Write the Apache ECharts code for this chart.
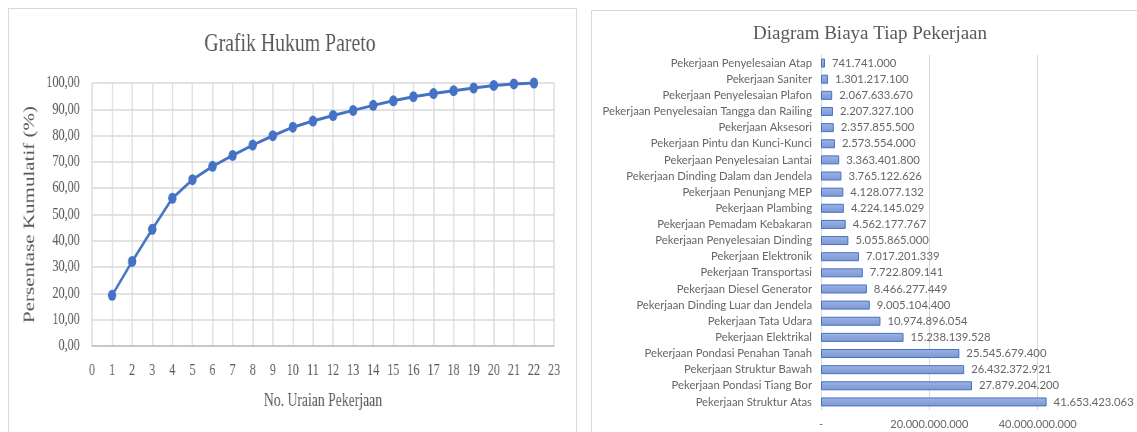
<!DOCTYPE html>
<html>
<head>
<meta charset="utf-8">
<script src="https://cdn.jsdelivr.net/npm/echarts@6/dist/echarts.min.js"></script>
<style>
  html, body { margin: 0; padding: 0; background: #fff; overflow: hidden; }
  body { width: 1137px; height: 432px; position: relative; }
  .panel { position: absolute; border: 1px solid #d9d9d9; box-sizing: border-box; }
  #paretoWrap { position: absolute; left: 0; top: 0; width: 580px; height: 432px; overflow: hidden; }
  /* the Pareto chart sits horizontally condensed inside its panel */
  #pareto { position: absolute; left: 0; top: 0; width: 763px; height: 432px;
            transform: scaleX(0.76); transform-origin: 0 0; }
  #biaya { position: absolute; left: 580px; top: 0; width: 557px; height: 432px; }
</style>
</head>
<body>
<div class="panel" style="left:8px; top:8px; width:569px; height:440px;"></div>
<div class="panel" style="left:591px; top:10px; width:560px; height:440px;"></div>
<div id="paretoWrap"><div id="pareto"></div></div>
<div id="biaya"></div>
<script>
// Pekerjaan, urut dari biaya terbesar ke terkecil (No. Uraian 1..22)
const pekerjaan = [
  'Pekerjaan Struktur Atas',
  'Pekerjaan Pondasi Tiang Bor',
  'Pekerjaan Struktur Bawah',
  'Pekerjaan Pondasi Penahan Tanah',
  'Pekerjaan Elektrikal',
  'Pekerjaan Tata Udara',
  'Pekerjaan Dinding Luar dan Jendela',
  'Pekerjaan Diesel Generator',
  'Pekerjaan Transportasi',
  'Pekerjaan Elektronik',
  'Pekerjaan Penyelesaian Dinding',
  'Pekerjaan Pemadam Kebakaran',
  'Pekerjaan Plambing',
  'Pekerjaan Penunjang MEP',
  'Pekerjaan Dinding Dalam dan Jendela',
  'Pekerjaan Penyelesaian Lantai',
  'Pekerjaan Pintu dan Kunci-Kunci',
  'Pekerjaan Aksesori',
  'Pekerjaan Penyelesaian Tangga dan Railing',
  'Pekerjaan Penyelesaian Plafon',
  'Pekerjaan Saniter',
  'Pekerjaan Penyelesaian Atap'
];

// Biaya tiap pekerjaan (Rp)
const biaya = [
  41653423063, 27879204200, 26432372921, 25545679400, 15238139528,
  10974896054, 9005104400, 8466277449, 7722809141, 7017201339,
  5055865000, 4562177767, 4224145029, 4128077132, 3765122626,
  3363401800, 2573554000, 2357855500, 2207327100, 2067633670,
  1301217100, 741741000
];

// No. uraian pekerjaan dan persentase kumulatif (%)
const noUraian = [1, 2, 3, 4, 5, 6, 7, 8, 9, 10, 11, 12, 13, 14, 15, 16, 17, 18, 19, 20, 21, 22];
const kumulatif = [
  19.26, 32.15, 44.37, 56.18, 63.23, 68.30, 72.46, 76.38, 79.95, 83.20, 85.53,
  87.64, 89.59, 91.50, 93.24, 94.80, 95.99, 97.08, 98.10, 99.06, 99.66, 100.00
];

// Sumbu
const sumbuX = { min: 0, max: 23, interval: 1 };
const sumbuY = { min: 0, max: 100, interval: 10 };
const sumbuBiaya = { min: 0, max: 60000000000, interval: 20000000000 };

const abu = '#595959';
const abuMuda = '#666666';
const garis = '#d9d9d9';
const serif = '"Liberation Serif", "Times New Roman", serif';
const sans = 'Lato, "Open Sans", sans-serif';

function ribuan(v) {
  return String(Math.round(v)).replace(/\B(?=(\d{3})+(?!\d))/g, '.');
}

// ---- Grafik Hukum Pareto ----
const pareto = echarts.init(document.getElementById('pareto'), null, { renderer: 'canvas' });
pareto.setOption({
  animation: false,
  title: {
    text: 'Grafik Hukum Pareto',
    left: 'center', top: 26,
    textStyle: { fontFamily: serif, fontSize: 26, fontWeight: 'normal', color: abu }
  },
  grid: { left: 121, right: 34, top: 83, bottom: 86, outerBoundsMode: 'none' },
  xAxis: {
    type: 'value', min: sumbuX.min, max: sumbuX.max, interval: sumbuX.interval,
    name: 'No. Uraian Pekerjaan', nameLocation: 'middle', nameGap: 46,
    nameTextStyle: { fontFamily: serif, fontSize: 18, color: abu },
    axisLine: { show: true, lineStyle: { color: '#bfbfbf', width: 1.5 } },
    axisTick: { show: false },
    axisLabel: { fontFamily: serif, fontSize: 16, color: abu, margin: 17 },
    splitLine: { show: true, lineStyle: { color: garis, width: 1.5 } }
  },
  yAxis: {
    type: 'value', min: sumbuY.min, max: sumbuY.max, interval: sumbuY.interval,
    name: 'Persentase Kumulatif (%)', nameLocation: 'middle', nameGap: 61, nameRotate: 90,
    nameTextStyle: { fontFamily: serif, fontSize: 21, color: abu },
    axisLine: { show: false },
    axisTick: { show: false },
    axisLabel: {
      fontFamily: serif, fontSize: 16, color: abu, margin: 16,
      formatter: v => v.toFixed(2).replace('.', ',')
    },
    splitLine: { show: true, lineStyle: { color: garis, width: 1.5 } }
  },
  series: [{
    type: 'line',
    data: noUraian.map((n, i) => [n, kumulatif[i]]),
    symbol: 'circle', symbolSize: 11,
    lineStyle: { color: '#4472c4', width: 3 },
    itemStyle: { color: '#4472c4' }
  }]
});

// ---- Diagram Biaya Tiap Pekerjaan ----
const chartBiaya = echarts.init(document.getElementById('biaya'), null, { renderer: 'canvas' });
chartBiaya.setOption({
  animation: false,
  title: {
    text: 'Diagram Biaya Tiap Pekerjaan',
    left: 285, textAlign: 'center', top: 20,
    textStyle: { fontFamily: serif, fontSize: 19, fontWeight: 'normal', color: abu }
  },
  grid: { left: 241, top: 55, width: 325, bottom: 22, outerBoundsMode: 'none' },
  xAxis: {
    type: 'value', min: sumbuBiaya.min, max: sumbuBiaya.max, interval: sumbuBiaya.interval,
    axisLine: { show: false },
    axisTick: { show: false },
    axisLabel: {
      fontFamily: sans, fontSize: 11, color: abuMuda, margin: 9,
      formatter: v => v === 0 ? '-' : (v >= sumbuBiaya.max ? '' : ribuan(v))
    },
    splitLine: { show: true, lineStyle: { color: garis, width: 1 } }
  },
  yAxis: {
    type: 'category', data: pekerjaan,
    axisLine: { show: true, lineStyle: { color: garis, width: 1 } },
    axisTick: { show: false },
    axisLabel: { fontFamily: sans, fontSize: 11.3, color: abuMuda, margin: 9 }
  },
  series: [{
    type: 'bar', data: biaya, barWidth: 9,
    itemStyle: {
      color: new echarts.graphic.LinearGradient(0, 0, 0, 1, [
        { offset: 0, color: '#9fb4e2' },
        { offset: 0.5, color: '#8ba5da' },
        { offset: 1, color: '#7b98d3' }
      ]),
      borderColor: '#4472c4', borderWidth: 1
    },
    label: {
      show: true, position: 'right', distance: 7,
      fontFamily: sans, fontSize: 11.3, color: abuMuda,
      formatter: p => ribuan(p.value)
    }
  }]
});
</script>
</body>
</html>
